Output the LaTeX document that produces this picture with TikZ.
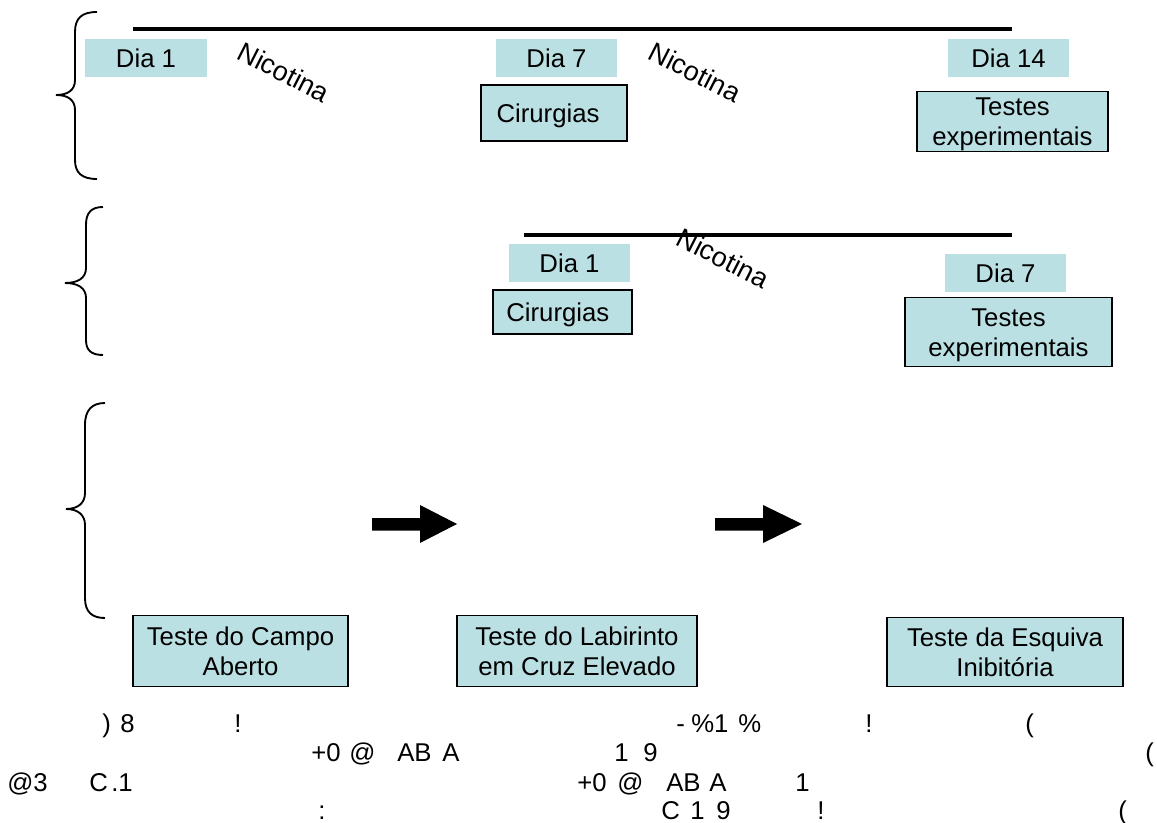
\documentclass[tikz,border=0pt]{standalone}
\usepackage{fontspec}
\setmainfont{Liberation Sans}
\definecolor{lb}{RGB}{187,224,227}
\newcommand\tallstrut{\rule{0pt}{0.93em}}
\begin{document}
\begin{tikzpicture}[x=0.75pt,y=-0.75pt,
  sz/.style 2 args={minimum width=#1*0.75pt, minimum height=#2*0.75pt},
  tag/.style={fill=lb, inner sep=0pt, align=center},
  boxed/.style={fill=lb, draw=black, line width=1.2pt, inner sep=0pt, align=center},
  nic/.style={rotate=-27, inner sep=0pt, font=\fontsize{20.5}{24}\selectfont},
  bar/.style={line width=3.6pt},
  brace/.style={line width=1.4pt},
  blockarrow/.style={fill=black, draw=none},
  gtxt/.style={anchor=base west, inner sep=0pt},
  every node/.style={font=\fontsize{19.3}{22.3}\selectfont}]
\useasboundingbox (0,0) rectangle (1157,823);

% braces
\draw[brace] (97,12) .. controls (82,12) and (75,18) .. (75,32) -- (75,80)
  .. controls (75,90) and (68,95) .. (56,95) .. controls (68,95) and (75,100) .. (75,110)
  -- (75,160) .. controls (75,173) and (82,179) .. (97,179);
\draw[brace] (103,207) .. controls (91,207) and (86,213) .. (86,225) -- (86,268)
  .. controls (86,278) and (78,283) .. (65,283) .. controls (78,283) and (86,288) .. (86,298)
  -- (86,340) .. controls (86,350) and (91,355) .. (103,355);
\draw[brace] (105,403) .. controls (92,403) and (85,410) .. (85,425) -- (85,493)
  .. controls (85,503) and (78,509) .. (66,509) .. controls (78,509) and (85,515) .. (85,525)
  -- (85,598) .. controls (85,612) and (92,618) .. (105,618);

% timeline bars
\coordinate (b1s) at (133,29);
\coordinate (b1e) at (1012,29);
\coordinate (b2s) at (524,235);
\coordinate (b2e) at (1012,235);
\draw[bar] (b1s) -- (b1e);
\draw[bar] (b2s) -- (b2e);

% row 1
\node[tag, sz={122}{38}] (d1a) at (146,58) {Dia 1};
\node[tag, sz={121}{38}] (d7a) at (556.5,58) {Dia 7};
\node[tag, sz={121}{38}] (d14) at (1008.5,58) {Dia 14};
\node[boxed, sz={146}{56}] (cir1) at (554,113) {\tallstrut Cirurgias\hspace{9pt}};
\node[boxed, sz={191}{60}] (tes1) at (1012.5,121.5) {\tallstrut Testes\\experimentais\hspace{8pt}};
\node[nic] (nic1) at (284,72) {Nicotina};
\node[nic] (nic2) at (695,72) {Nicotina};

% row 2
\node[tag, sz={121}{38}] (d1b) at (569.5,263) {Dia 1};
\node[boxed, sz={139}{44}] (cir2) at (562.5,312) {\tallstrut Cirurgias\hspace{7pt}};
\node[tag, sz={121}{38}] (d7b) at (1005.5,273) {Dia 7};
\node[boxed, sz={207}{69}] (tes2) at (1008.5,332) {\tallstrut Testes\\experimentais};
\node[nic] (nic3) at (723,258) {Nicotina};

% row 3 arrows
\fill[blockarrow] (372,518) -- (420,518) -- (420,505) -- (457,524) -- (420,543) -- (420,530.5) -- (372,530.5) -- cycle;
\fill[blockarrow] (715,518) -- (763,518) -- (763,505) -- (802,524) -- (763,543) -- (763,530.5) -- (715,530.5) -- cycle;

% row 3 boxes
\node[boxed, sz={215}{71}] (t1) at (240.5,651) {Teste do Campo\\Aberto};
\node[boxed, sz={240}{71}] (t2) at (577,651) {Teste do Labirinto\\em Cruz Elevado};
\node[boxed, sz={236}{69}] (t3) at (1005,652) {Teste da Esquiva\\Inibitória};

% garbled caption text
\node[gtxt] (g1) at (102,732) {)};
\node[gtxt] (g2) at (120,732) {8};
\node[gtxt] (g3) at (234,732) {!};
\node[gtxt] (g4) at (676,732) {-};
\node[gtxt] (g5) at (691,732) {\%1};
\node[gtxt] (g6) at (738,732) {\%};
\node[gtxt] (g7) at (865,732) {!};
\node[gtxt] (g8) at (1025,732) {(};

\node[gtxt] (h1) at (311,761) {+0};
\node[gtxt] (h2) at (349,761) {@};
\node[gtxt] (h3) at (397,761) {AB};
\node[gtxt] (h4) at (442,761) {A};
\node[gtxt] (h5) at (614,761) {1};
\node[gtxt] (h6) at (643,761) {9};
\node[gtxt] (h7) at (1145,761) {(};

\node[gtxt] (i1) at (7,791) {@3};
\node[gtxt] (i2) at (89,791) {C};
\node[gtxt] (i3) at (111,791) {.1};
\node[gtxt] (i4) at (577,791) {+0};
\node[gtxt] (i5) at (617,791) {@};
\node[gtxt] (i6) at (666,791) {AB};
\node[gtxt] (i7) at (709,791) {A};
\node[gtxt] (i8) at (795,791) {1};

\node[gtxt] (j1) at (318,819) {:};
\node[gtxt] (j2) at (661,819) {C};
\node[gtxt] (j3) at (690,819) {1};
\node[gtxt] (j4) at (716,819) {9};
\node[gtxt] (j5) at (817,819) {!};
\node[gtxt] (j6) at (1118,819) {(};
\end{tikzpicture}
\end{document}
